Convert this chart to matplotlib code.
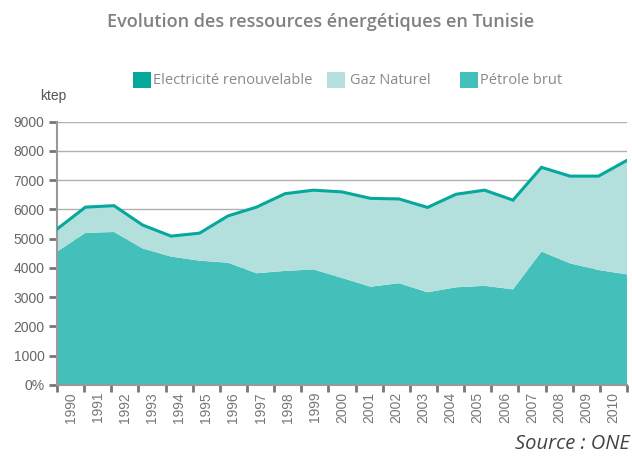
import numpy as np
import matplotlib
matplotlib.use("Agg")
import matplotlib.pyplot as plt
from matplotlib.patches import Rectangle

years = [str(y) for y in range(1990, 2011)]
petrole = [4560, 5200, 5230, 4670, 4390, 4250, 4180, 3820, 3900, 3950, 3660,
           3360, 3480, 3170, 3340, 3390, 3270, 4560, 4160, 3930, 3780]
gaz = [760, 870, 890, 790, 695, 935, 1595, 2255, 2635, 2705, 2935,
       3015, 2875, 2895, 3175, 3255, 3035, 2865, 2960, 3190, 3875]
elec = [10, 10, 10, 10, 5, 5, 5, 5, 5, 5, 5,
        5, 5, 5, 5, 15, 15, 15, 20, 20, 25]
yticks = [0, 1000, 2000, 3000, 4000, 5000, 6000, 7000, 8000, 9000]
ytick_labels = ["0%", "1000", "2000", "3000", "4000", "5000", "6000", "7000", "8000", "9000"]
series_names = ["Electricité renouvelable", "Gaz Naturel", "Pétrole brut"]

c_pet = "#43c0b9"
c_gaz = "#b3e0dd"
c_elec = "#05a89b"

W, H = 632, 457
fig = plt.figure(figsize=(W/100, H/100), dpi=100)
ax = fig.add_axes([57/W, 1-385/H, 570/W, (385-121.7)/H])

x = np.arange(len(years))
ax.stackplot(x, petrole, gaz, elec, colors=[c_pet, c_gaz, c_elec], linewidth=0, zorder=2)
top = np.array(petrole) + np.array(gaz) + np.array(elec)
ax.plot(x, top, color=c_elec, lw=2.2, zorder=3, solid_joinstyle="miter")

ax.set_xlim(0, len(years) - 1)
ax.set_ylim(0, 9000)
ax.set_yticks(yticks)
ax.set_yticklabels(ytick_labels, fontsize=10, color="#666666", family="Liberation Sans")
ax.yaxis.grid(True, color="#b0b0b0", lw=1)
ax.set_axisbelow(True)

n = len(years)
step = (n - 1) / n
ax.set_xticks([k * step for k in range(n + 1)])
ax.set_xticklabels([])
ax.set_xticks([(k + 0.5) * step for k in range(n)], minor=True)
ax.set_xticklabels(years, minor=True, rotation=90, fontsize=10, color="#777777",
                   family="Liberation Sans")
ax.tick_params(axis="x", which="major", length=5, width=2, color="#777777", direction="out")
ax.tick_params(axis="x", which="minor", length=0, pad=5)
ax.tick_params(axis="y", length=6, width=2, color="#777777", pad=3)

for s in ["top", "right"]:
    ax.spines[s].set_visible(False)
for s in ["left", "bottom"]:
    ax.spines[s].set_color("#999999")
    ax.spines[s].set_linewidth(1.5)

fig.text(0.507, 1 - 22/H, "Evolution des ressources énergétiques en Tunisie",
         ha="center", va="center", fontsize=13, color="#808080",
         family="Open Sans", weight="semibold")

# legend drawn manually
leg_sq_x = [132.7, 327, 459.5]
leg_txt_x = [153, 350, 480]
for sx, tx, col, name in zip(leg_sq_x, leg_txt_x, [c_elec, c_gaz, c_pet], series_names):
    fig.patches.append(Rectangle((sx/W, 1-87.7/H), 18/W, 15.4/H, transform=fig.transFigure,
                                 facecolor=col, edgecolor="none"))
    fig.text(tx/W, 1-80/H, name, ha="left", va="center", fontsize=10.5,
             color="#8a8a8a", family="Open Sans")

fig.text(40/W, 1 - 96/H, "ktep", ha="left", va="center", fontsize=10,
         color="#555555", family="Liberation Sans")
fig.text(630/W, 1 - 444/H, "Source : ONE", ha="right", va="center", fontsize=14.5,
         color="#444444", family="Open Sans", style="italic")

fig.savefig("out.png", dpi=100)
